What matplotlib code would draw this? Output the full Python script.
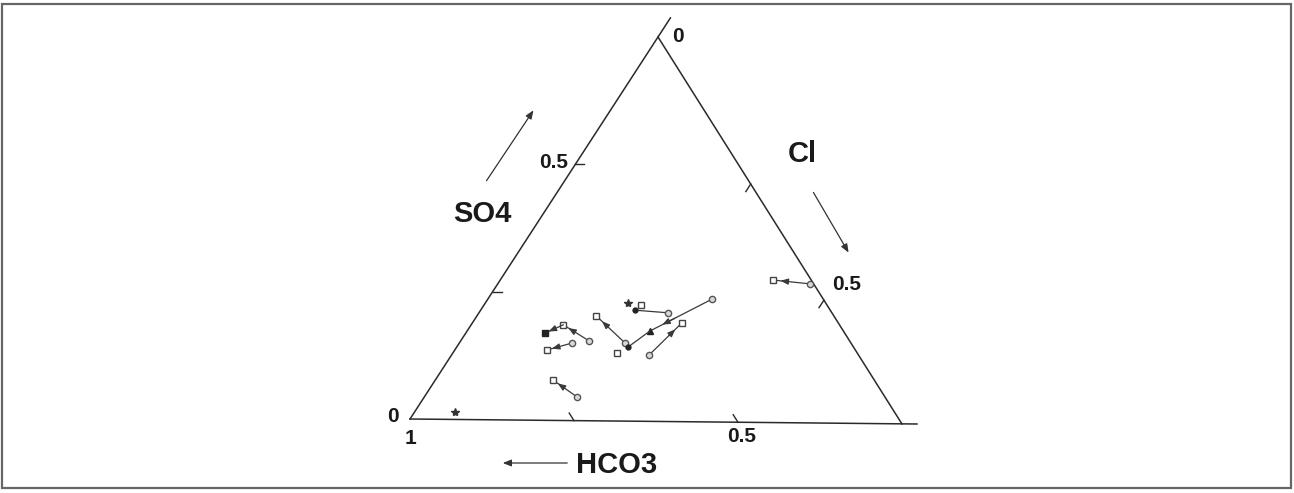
import numpy as np
import matplotlib.pyplot as plt
from matplotlib.patches import Rectangle

plt.rcParams['font.family'] = ['Liberation Sans', 'DejaVu Sans']

# ternary samples: (SO4, Cl) shares, HCO3 is the rest
start_so4 = [0.362, 0.320, 0.173, 0.203, 0.208, 0.249, 0.202, 0.062]
start_cl = [0.631, 0.453, 0.399, 0.335, 0.259, 0.186, 0.228, 0.308]
end_so4 = [0.371, 0.235, 0.257, 0.273, 0.249, 0.227, 0.183, 0.105]
end_cl = [0.551, 0.369, 0.423, 0.241, 0.186, 0.160, 0.186, 0.238]
start_kind = ['o', 'o', 'o', 'o', 'o', '', 'o', 'o']
end_kind = ['s', '^', 's', 's', 's', 'fs', 's', 's']

# extra points
chain_so4, chain_cl = 0.193, 0.346     # tail after the triangle
pair_so4 = [0.283, 0.289]              # short segment without arrow
pair_cl = [0.382, 0.311]
lone_sq_so4, lone_sq_cl = [0.177, 0.303], [0.332, 0.317]
star_so4, star_cl = [0.307, 0.019], [0.288, 0.082]

tick_fracs = [1 / 3, 2 / 3]
tick_fracs_right = [0.38, 0.68]

# triangle corners in figure pixels (HCO3, SO4, Cl)
BL = np.array([410.0, 419.0])
TP = np.array([658.0, 37.0])
BR = np.array([902.0, 424.0])


def tern(so4, cl):
    so4 = np.asarray(so4, float)
    cl = np.asarray(cl, float)
    x = BL[0] + cl * (BR[0] - BL[0]) + so4 * (TP[0] - BL[0])
    y = BL[1] + cl * (BR[1] - BL[1]) + so4 * (TP[1] - BL[1])
    return x, y


fig = plt.figure(figsize=(12.94, 4.93), dpi=100)
ax = fig.add_axes([0, 0, 1, 1])
ax.set_xlim(0, 1294)
ax.set_ylim(493, 0)
ax.axis('off')

# outer frame
ax.add_patch(Rectangle((2, 4), 1289, 484, fill=False, ec='#666666', lw=1.6))

ink = '#2a2a2a'
# triangle sides (left side and base run a bit past the corners)
ax.plot([BL[0], TP[0] + (TP[0] - BL[0]) * 0.05], [BL[1], TP[1] + (TP[1] - BL[1]) * 0.05], color=ink, lw=1.1)
ax.plot([TP[0], BR[0]], [TP[1], BR[1]], color=ink, lw=1.1)
ax.plot([BL[0], BR[0] + 15], [BL[1], BR[1]], color=ink, lw=1.1)


def unit(v):
    return v / np.hypot(*v)


tick_len = 9
for f, fr in zip(tick_fracs, tick_fracs_right):
    # left side: horizontal ticks pointing in
    p = BL + f * (TP - BL)
    ax.plot([p[0], p[0] + tick_len], [p[1], p[1]], color=ink, lw=1.0)
    # right side: ticks parallel to the left side
    p = TP + fr * (BR - TP)
    d = unit(BL - TP) * tick_len
    ax.plot([p[0], p[0] + d[0]], [p[1], p[1] + d[1]], color=ink, lw=1.0)
    # base: ticks parallel to the right side
    p = BL + f * (BR - BL)
    d = unit(TP - BR) * tick_len
    ax.plot([p[0], p[0] + d[0]], [p[1], p[1] + d[1]], color=ink, lw=1.0)

# sample arrows: start circle -> end marker
line_c = '#3a3a3a'
ms = 4.5
sx, sy = tern(start_so4, start_cl)
ex, ey = tern(end_so4, end_cl)
for x0, y0, x1, y1, k0, k in zip(sx, sy, ex, ey, start_kind, end_kind):
    ax.plot([x0, x1], [y0, y1], color=line_c, lw=0.9)
    ax.annotate('', xy=(x0 + 0.8 * (x1 - x0), y0 + 0.8 * (y1 - y0)),
                xytext=(x0 + 0.6 * (x1 - x0), y0 + 0.6 * (y1 - y0)),
                arrowprops=dict(arrowstyle='-|>,head_length=0.45,head_width=0.18',
                                color=line_c, lw=0.9, shrinkA=0, shrinkB=0))
    if k0 == 'o':
        ax.plot(x0, y0, 'o', ms=ms, mfc='#d8d8d8', mec='#555555', mew=1.0)
    if k == 's':
        ax.plot(x1, y1, 's', ms=ms, mfc='white', mec='#444444', mew=1.0)
    elif k == 'fs':
        ax.plot(x1, y1, 's', ms=ms, mfc='#222222', mec='#222222', mew=1.0)
    else:
        ax.plot(x1, y1, '^', ms=ms, mfc='#222222', mec='#222222')

# tail from the triangle down to a filled dot
cx, cy = tern([end_so4[1], chain_so4], [end_cl[1], chain_cl])
ax.plot(cx, cy, color=line_c, lw=0.9)
ax.plot(cx[1], cy[1], 'o', ms=3.5, color='#222222')

px, py = tern(pair_so4, pair_cl)
ax.plot(px, py, color=line_c, lw=0.9)
ax.plot(px[0], py[0], 'o', ms=ms, mfc='#d8d8d8', mec='#555555', mew=1.0)
ax.plot(px[1], py[1], 'o', ms=3.5, color='#222222')

lx, ly = tern(lone_sq_so4, lone_sq_cl)
ax.plot(lx, ly, 's', ls='none', ms=ms, mfc='white', mec='#444444', mew=1.0)
stx, sty = tern(star_so4, star_cl)
ax.plot(stx, sty, '*', ls='none', ms=6, color='#333333')

# scale labels
num = dict(fontsize=15, fontweight='bold', color='#1a1a1a', va='center')
ax.text(672, 37, '0', ha='left', **num)
ax.text(568, 163, '0.5', ha='right', **num)
ax.text(393, 416, '0', ha='center', **num)
ax.text(411, 438, '1', ha='center', **num)
ax.text(742, 437, '0.5', ha='center', **num)
ax.text(847, 285, '0.5', ha='center', **num)

# component names with direction arrows
name = dict(fontsize=21, fontweight='bold', color='#1a1a1a', ha='center', va='center')
ax.text(482, 214, 'SO4', **name)
ax.text(802, 154, 'Cl', **name)
ax.text(617, 465, 'HCO3', **name)
arr = dict(arrowstyle='-|>,head_length=0.5,head_width=0.2', color='#333333', lw=0.9)
ax.annotate('', xy=(535, 108), xytext=(485, 183), arrowprops=arr)
ax.annotate('', xy=(850, 255), xytext=(812, 190), arrowprops=arr)
ax.annotate('', xy=(500, 463), xytext=(570, 463), arrowprops=arr)

fig.savefig('out.png', dpi=100)
